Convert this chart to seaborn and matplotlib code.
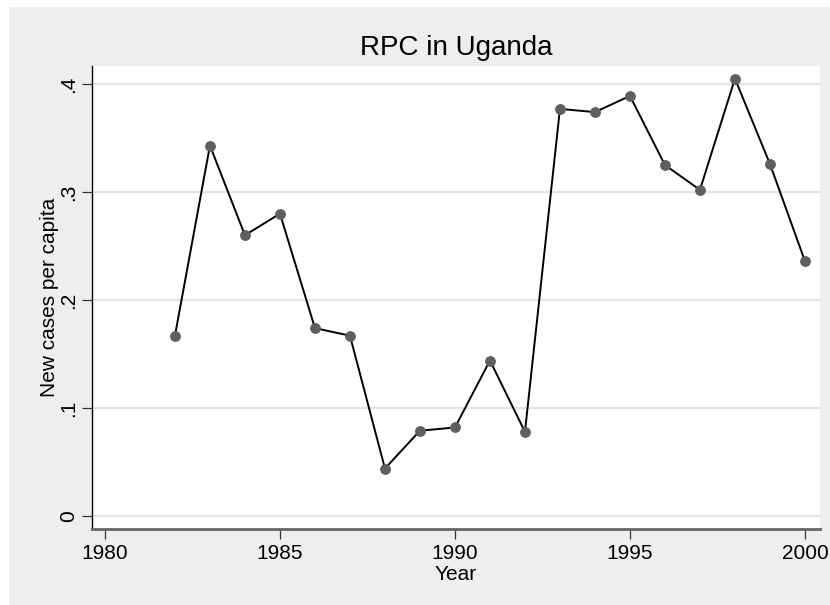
import pandas as pd
import matplotlib.pyplot as plt
from matplotlib.patches import Rectangle
import seaborn as sns

# RPC new cases per capita, Uganda
years = [1982, 1983, 1984, 1985, 1986, 1987, 1988, 1989, 1990, 1991,
         1992, 1993, 1994, 1995, 1996, 1997, 1998, 1999, 2000]
rpc = [0.167, 0.343, 0.260, 0.280, 0.174, 0.167, 0.044, 0.079, 0.082, 0.144,
       0.078, 0.377, 0.374, 0.389, 0.325, 0.302, 0.405, 0.326, 0.236]
xticks = [1980, 1985, 1990, 1995, 2000]
yticks = [0, 0.1, 0.2, 0.3, 0.4]
ytick_labels = ['0', '.1', '.2', '.3', '.4']

df = pd.DataFrame({'Year': years, 'rpc': rpc})

sns.set_style('white')
plt.rcParams['font.family'] = ['Liberation Sans', 'DejaVu Sans']
plt.rcParams['text.color'] = 'black'
plt.rcParams['axes.labelcolor'] = 'black'
plt.rcParams['xtick.labelcolor'] = 'black'
plt.rcParams['ytick.labelcolor'] = 'black'

fig = plt.figure(figsize=(8.3, 6.05), dpi=100)
fig.patch.set_facecolor('white')
# gray backdrop like the Stata graph region
fig.patches.append(Rectangle((9 / 830, 0), 1, 1 - 7 / 605, transform=fig.transFigure,
                             facecolor='#eeeeee', edgecolor='none', zorder=-10))

ax = fig.add_axes([92 / 830, 1 - 529 / 605, (820 - 92) / 830, (529 - 66) / 605])
ax.set_facecolor('white')

sns.lineplot(data=df, x='Year', y='rpc', ax=ax, color='black', linewidth=1.4,
             marker='o', markersize=7, markerfacecolor='#5f5f5f',
             markeredgecolor='#5f5f5f', zorder=3)

ax.set_xlim(1979.63, 2000.43)
ax.set_ylim(-0.012, 0.4167)
ax.set_xticks(xticks)
ax.set_xticklabels([str(x) for x in xticks])
ax.set_yticks(yticks)
ax.set_yticklabels(ytick_labels, rotation=90, va='center')

ax.yaxis.grid(True, color='#e4e4e4', linewidth=1.6)
ax.xaxis.grid(False)
ax.set_axisbelow(True)

for s in ['top', 'right']:
    ax.spines[s].set_visible(False)
ax.spines['left'].set_color('black')
ax.spines['left'].set_linewidth(1.0)
ax.spines['bottom'].set_color('#666666')
ax.spines['bottom'].set_linewidth(2.0)

ax.tick_params(axis='both', direction='out', length=7, width=0.9, color='#333333',
               labelsize=15, bottom=True, left=True)
ax.tick_params(axis='x', pad=4)
ax.tick_params(axis='y', pad=3)

ax.set_xlabel('Year', fontsize=15, labelpad=1)
ax.set_ylabel('New cases per capita', fontsize=15, labelpad=0)
ax.set_title('RPC in Uganda', fontsize=20, pad=8)

fig.savefig('out.png', dpi=100)
